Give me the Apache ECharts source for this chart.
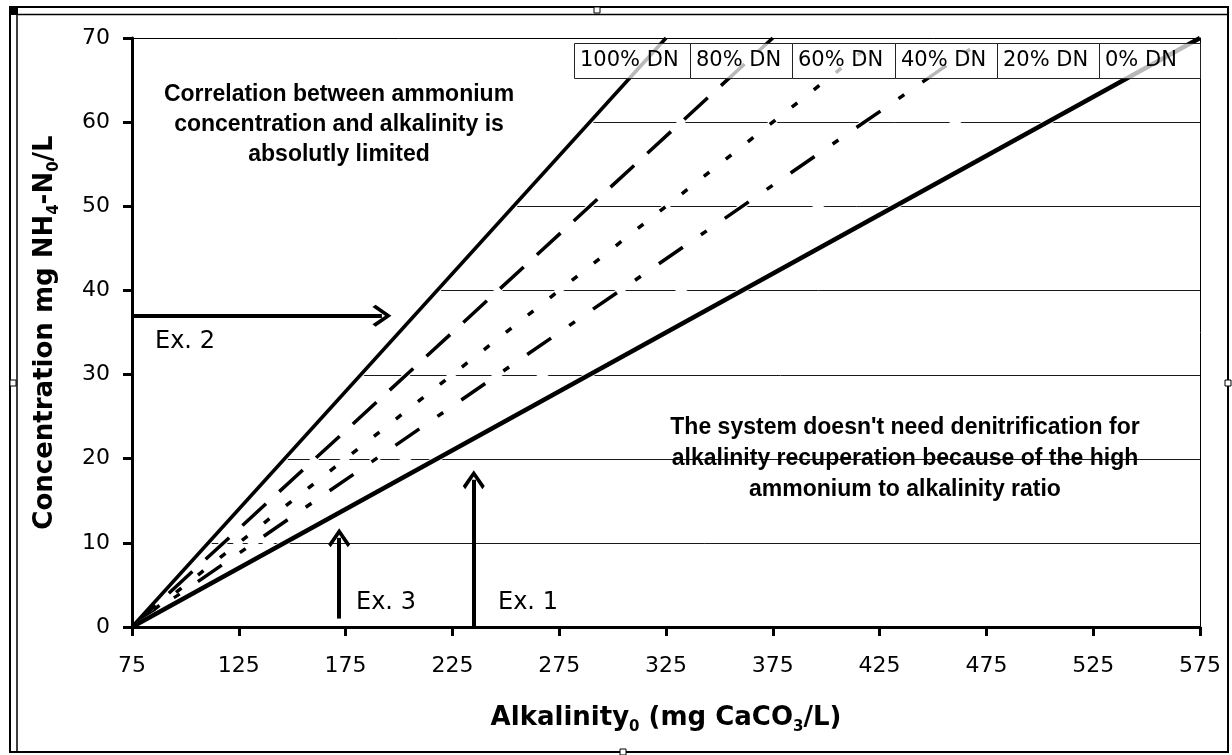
<!DOCTYPE html>
<html>
<head>
<meta charset="utf-8">
<script src="https://cdn.jsdelivr.net/npm/echarts@6/dist/echarts.min.js"></script>
<style>
  html, body { margin: 0; padding: 0; background: #fff; }
  #chart { width: 1232px; height: 755px; }
</style>
</head>
<body>
<div id="chart"></div>
<script>
// axes
var xMin = 75, xMax = 575, xStep = 50;
var yMin = 0, yMax = 70, yStep = 10;

// lines: all start at the same point, end at y = 70
var dnLabels = ['100% DN', '80% DN', '60% DN', '40% DN', '20% DN', '0% DN'];
var originPt = [75, 0];
var dnEndAlk = [325, 375, 425, 475, 525, 575];
var gridLevels = [10, 20, 30, 40, 50, 60];

// example arrows
var exNames = ['Ex. 1', 'Ex. 2', 'Ex. 3'];
var exFrom = [[235, 0], [75, 37], [172, 1]];
var exTo = [[235, 17.5], [192, 37], [172, 10.6]];

var noteTop = 'Correlation between ammonium\nconcentration and alkalinity is\nabsolutly limited';
var noteBottom = "The system doesn't need denitrification for\nalkalinity recuperation because of the high\nammonium to alkalinity ratio";

var FONT = 'DejaVu Sans';
var chevron = 'path://M0,0 L10,11 L7.8,13.2 L0,4.4 L-7.8,13.2 L-10,11 Z';

// look of each DN line
var dnStyle = [
  { color: '#000', width: 3.5, type: 'solid' },
  { color: '#000', width: 3.5, type: [32, 18] },
  { color: '#000', width: 3.5, type: [7, 21] },
  { color: '#000', width: 3.5, type: [29, 22, 7, 22] },
  { color: '#fff', width: 3, type: 'solid' },
  { color: '#000', width: 4.5, type: 'solid' }
];

var chart = echarts.init(document.getElementById('chart'));

var series = [];

// grid lines only to the right of the 100% line
series.push({
  type: 'custom',
  z: 1,
  silent: true,
  data: gridLevels.map(function (v) { return [xMax, v]; }),
  renderItem: function (params, api) {
    var y = api.value(1);
    var xl = originPt[0] + (dnEndAlk[0] - originPt[0]) * (y - originPt[1]) / (yMax - originPt[1]);
    var a = api.coord([xl, y]);
    var b = api.coord([xMax, y]);
    var py = Math.round(a[1]) + 0.5;
    return {
      type: 'line',
      shape: { x1: a[0], y1: py, x2: b[0], y2: py },
      style: { stroke: '#1a1a1a', lineWidth: 1 }
    };
  }
});

// white under-strokes (cut the grid lines where the DN lines cross)
dnLabels.forEach(function (name, i) {
  series.push({
    type: 'line',
    z: 3,
    silent: true,
    symbol: 'none',
    clip: false,
    data: [originPt, [dnEndAlk[i], yMax]],
    lineStyle: { color: '#fff', width: 6 }
  });
});

dnLabels.forEach(function (name, i) {
  series.push({
    name: name,
    type: 'line',
    z: 4,
    silent: true,
    symbol: 'none',
    clip: false,
    data: [originPt, [dnEndAlk[i], yMax]],
    lineStyle: dnStyle[i]
  });
});

// arrows
series.push({
  type: 'line',
  z: 6,
  data: [],
  markLine: {
    silent: true,
    animation: false,
    symbol: ['none', chevron],
    symbolSize: [22, 19],
    label: { show: false },
    lineStyle: { color: '#000', width: 4, type: 'solid' },
    emphasis: { disabled: true },
    data: exNames.map(function (n, i) {
      return [{ coord: exFrom[i] }, { coord: exTo[i] }];
    })
  }
});

// label boxes at the top
var boxEdges = [574, 690, 792, 895, 997, 1099, 1200];
var graphics = [];
dnLabels.forEach(function (name, i) {
  graphics.push({
    type: 'rect',
    z: 100,
    shape: { x: boxEdges[i] + 0.5, y: 43.5, width: boxEdges[i + 1] - boxEdges[i], height: 35 },
    style: { fill: 'rgba(255,255,255,0.72)', stroke: '#222', lineWidth: 1 }
  });
  graphics.push({
    type: 'text',
    z: 101,
    x: boxEdges[i] + 6,
    y: 61,
    style: {
      text: name,
      fill: '#000',
      font: '21px "' + FONT + '"',
      textAlign: 'left',
      textVerticalAlign: 'middle'
    }
  });
});

// notes
graphics.push({
  type: 'text', z: 101, x: 339, y: 125,
  style: {
    text: noteTop, fill: '#000', font: 'bold 23px "Liberation Sans"',
    textAlign: 'center', textVerticalAlign: 'middle', lineHeight: 30
  }
});
graphics.push({
  type: 'text', z: 101, x: 905, y: 459,
  style: {
    text: noteBottom, fill: '#000', font: 'bold 23px "Liberation Sans"',
    textAlign: 'center', textVerticalAlign: 'middle', lineHeight: 31
  }
});

// example labels
var exLabelPos = [[498, 603], [155, 342], [356, 603]];
exNames.forEach(function (n, i) {
  graphics.push({
    type: 'text', z: 101, x: exLabelPos[i][0], y: exLabelPos[i][1],
    style: { text: n, fill: '#000', font: '24px "' + FONT + '"', textAlign: 'left', textVerticalAlign: 'middle' }
  });
});

// frame around the picture
graphics.push({
  type: 'rect', z: 100,
  shape: { x: 10, y: 7, width: 1218, height: 745 },
  style: { fill: 'none', stroke: '#000', lineWidth: 2 }
});
graphics.push({
  type: 'polyline', z: 100,
  shape: { points: [[17, 751], [17, 14.5], [1227, 14.5]] },
  style: { fill: 'none', stroke: '#000', lineWidth: 1.5 }
});
graphics.push({
  type: 'rect', z: 101,
  shape: { x: 9, y: 6, width: 9, height: 9 },
  style: { fill: '#000' }
});
[[13, 383], [597, 10], [623, 752], [1228, 383]].forEach(function (p) {
  graphics.push({
    type: 'rect', z: 101,
    shape: { x: p[0] - 3, y: p[1] - 3, width: 6, height: 6 },
    style: { fill: '#fff', stroke: '#000', lineWidth: 1 }
  });
});

var subRich = {
  s: { fontFamily: FONT, fontWeight: 'bold', fontSize: 15, lineHeight: 12, verticalAlign: 'bottom', color: '#000' }
};

var option = {
  backgroundColor: '#fff',
  animation: false,
  grid: { left: 132, right: 32, top: 38, bottom: 128 },
  xAxis: [{
    type: 'value',
    position: 'bottom',
    min: xMin, max: xMax, interval: xStep,
    z: 5,
    name: 'Alkalinity{s|0} (mg CaCO{s|3}/L)',
    nameLocation: 'middle',
    nameGap: 74,
    nameTextStyle: { fontFamily: FONT, fontWeight: 'bold', fontSize: 26, lineHeight: 34, color: '#000', rich: subRich },
    axisLine: { onZero: false, lineStyle: { color: '#000', width: 3 } },
    axisTick: { length: 9, lineStyle: { color: '#000', width: 3 } },
    axisLabel: { fontFamily: FONT, fontSize: 22, color: '#000', margin: 28 },
    splitLine: { show: false }
  }, {
    type: 'value',
    position: 'top',
    min: xMin, max: xMax, interval: xStep,
    z: 5,
    axisLine: { onZero: false, lineStyle: { color: '#000', width: 1 } },
    axisTick: { show: false },
    axisLabel: { show: false },
    splitLine: { show: false }
  }],
  yAxis: [{
    type: 'value',
    position: 'left',
    min: yMin, max: yMax, interval: yStep,
    z: 5,
    name: 'Concentration mg NH{s|4}-N{s|0}/L',
    nameLocation: 'middle',
    nameGap: 70,
    nameTextStyle: { fontFamily: FONT, fontWeight: 'bold', fontSize: 26, lineHeight: 34, color: '#000', rich: subRich },
    axisLine: { onZero: false, lineStyle: { color: '#000', width: 3 } },
    axisTick: { length: 9, lineStyle: { color: '#000', width: 3 } },
    axisLabel: { fontFamily: FONT, fontSize: 22, color: '#000', margin: 22 },
    splitLine: { show: false }
  }, {
    type: 'value',
    position: 'right',
    min: yMin, max: yMax, interval: yStep,
    z: 5,
    axisLine: { onZero: false, lineStyle: { color: '#000', width: 1 } },
    axisTick: { show: false },
    axisLabel: { show: false },
    splitLine: { show: false }
  }],
  series: series,
  graphic: graphics
};

chart.setOption(option);
</script>
</body>
</html>
